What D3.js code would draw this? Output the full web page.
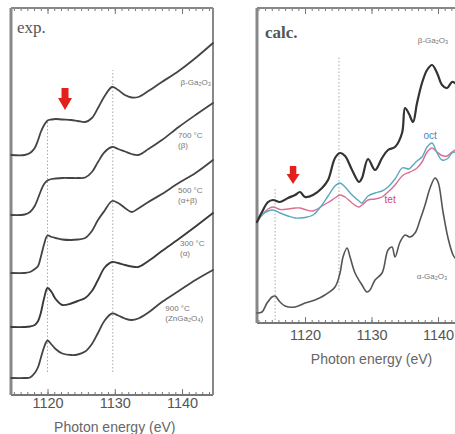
<!DOCTYPE html>
<html><head><meta charset="utf-8">
<script src="https://cdn.jsdelivr.net/npm/d3@7"></script>
<style>
html,body{margin:0;padding:0;background:#fff;}
svg{display:block;}
</style></head>
<body>
<script>
// ---------- DATA ----------
// Experimental spectra (left panel), photon energy in eV, intensity in a.u. (offset stacked)
const expEnergy = [1114.6,1116.6,1117.4,1118.1,1118.6,1119.0,1119.5,1120.0,1120.6,1121.2,1122.2,1123.5,1124.5,1125.6,1126.6,1127.5,1128.5,1129.6,1130.5,1131.5,1132.5,1133.5,1135.0,1137.0,1139.5,1142.0,1144.6];
const expBeta  = [24.0,24.0,24.2,24.7,25.5,26.3,27.0,27.45,27.55,27.6,27.55,27.5,27.4,27.3,27.7,28.7,29.9,30.8,30.5,30.0,29.75,29.8,30.4,31.3,32.4,33.7,35.2];
const exp700   = [18.0,18.05,18.3,18.9,19.7,20.4,21.1,21.45,21.6,21.65,21.7,21.7,21.7,21.75,22.3,23.3,24.3,24.8,24.6,24.35,24.1,24.0,24.6,25.5,26.8,28.0,29.2];
const exp500   = [12.2,12.2,12.3,12.6,12.9,13.8,15.1,15.95,15.8,15.7,15.55,15.5,15.55,15.7,16.4,17.5,18.45,19.4,19.2,18.7,18.3,18.65,19.3,20.1,21.2,22.2,23.5];
const exp300   = [6.8,6.8,6.85,7.0,7.4,8.2,9.7,10.7,10.3,9.6,9.0,9.15,9.4,9.7,10.4,11.5,12.75,13.3,13.2,13.0,12.85,12.8,13.4,14.4,15.6,16.85,18.2];
const exp900   = [1.7,1.7,1.75,2.2,2.8,3.7,4.8,5.45,5.05,4.6,4.15,4.0,4.05,4.35,5.1,6.2,7.45,8.15,7.95,7.65,7.5,7.65,8.25,9.3,10.4,11.5,12.5];
const expLabels = [
  {lines:["β-Ga₂O₃"], e:1144.3, i:[31.0], anchor:"end"},
  {lines:["700 °C","(β)"], e:1139.4, i:[25.7,24.7], anchor:"start"},
  {lines:["500 °C","(α+β)"], e:1139.4, i:[20.2,19.2], anchor:"start"},
  {lines:["300 °C","(α)"], e:1139.7, i:[14.9,13.9], anchor:"start"},
  {lines:["900 °C","(ZnGa₂O₄)"], e:1137.5, i:[8.4,7.4], anchor:"start"}
];
const expGuides = [{e:1120.0, from:2.3, to:27.5},{e:1129.7, from:2.3, to:32.5}];
const expArrow = {e:1122.6, top:30.7, tip:28.5};

// Calculated spectra (right panel)
const calcEnergy = [1112.78,1113.53,1114.44,1115.19,1116.24,1117.44,1118.5,1119.25,1120.0,1121.2,1122.56,1123.46,1124.51,1125.26,1126.02,1127.07,1128.12,1128.57,1129.47,1130.53,1131.58,1132.48,1133.53,1134.59,1135.04,1135.64,1136.24,1136.84,1137.59,1138.35,1139.1,1139.85,1140.6,1141.35,1142.1,1142.56];
const calcBeta = [10.1,11.1,12.1,12.3,12.1,12.5,12.8,13.1,12.6,12.8,13.5,14.3,16.5,17.0,16.7,15.3,14.1,14.5,16.4,15.3,16.5,17.3,17.6,19.0,21.5,20.9,20.1,22.0,24.0,25.3,25.8,25.0,23.8,23.5,24.1,24.0];
const calcOct  = [10.1,10.8,11.2,11.3,11.0,10.7,10.5,10.5,10.55,10.8,11.8,12.7,13.7,14.0,13.6,12.8,12.2,12.0,12.7,13.0,13.2,13.6,14.4,15.5,15.5,15.4,15.8,16.2,16.6,17.6,18.0,17.0,16.3,16.4,17.0,17.1];
const calcTet  = [10.1,10.8,11.4,11.6,11.35,11.4,11.5,11.5,11.35,11.2,11.7,12.05,12.5,12.8,12.6,12.0,11.6,11.8,12.3,12.4,12.6,13.1,13.8,14.7,14.9,15.05,15.25,15.5,16.1,17.1,17.5,17.1,16.75,16.7,17.1,17.3];
const alphaEnergy = [1112.78,1113.53,1114.29,1115.04,1115.49,1116.24,1116.99,1118.5,1120.0,1121.5,1123.0,1124.51,1125.26,1125.71,1126.32,1126.77,1127.52,1128.57,1129.32,1129.77,1130.53,1131.58,1132.48,1133.08,1133.53,1134.29,1135.04,1135.79,1136.54,1137.29,1138.05,1138.8,1139.55,1140.0,1140.75,1141.5,1142.26,1142.56];
const calcAlpha = [1.0,1.1,2.0,2.6,2.7,2.1,1.7,1.6,2.0,2.3,2.8,3.6,5.0,6.6,7.5,6.6,5.0,3.8,3.1,3.3,4.3,5.0,7.3,7.6,6.6,8.1,8.8,8.6,9.0,10.3,11.8,13.5,14.5,14.1,11.1,8.5,6.8,6.5];
const calcLabels = [
  {text:"β-Ga₂O₃", e:1139.25, i:28.0, color:"#777"},
  {text:"oct", e:1138.8, i:18.4, color:"#3f86c6"},
  {text:"tet", e:1132.8, i:12.0, color:"#d2476f"},
  {text:"α-Ga₂O₃", e:1139.1, i:4.4, color:"#777"}
];
const calcGuides = [{e:1115.5, from:0.3, to:13.5},{e:1125.1, from:3.3, to:26.6}];
const calcArrow = {e:1118.2, top:15.7, tip:13.9};

const majorTicks = [1120,1130,1140];
const axisTitle = "Photon energy (eV)";

// ---------- DRAW ----------
const W = 455, H = 434;
const svg = d3.select("body").append("svg").attr("width", W).attr("height", H);
const FONT = "'Liberation Sans', Arial, sans-serif";

function panel(cfg){
  const g = svg.append("g");
  const x = d3.scaleLinear().domain(cfg.xDomain).range(cfg.xRange);
  const y = d3.scaleLinear().domain(cfg.yDomain).range(cfg.yRange);
  const [x0,x1] = cfg.xRange, [yb,yt] = cfg.yRange;

  // guides
  cfg.guides.forEach(d=>{
    g.append("line").attr("x1",x(d.e)).attr("x2",x(d.e)).attr("y1",y(d.from)).attr("y2",y(d.to))
      .attr("stroke","#aaa").attr("stroke-width",1).attr("stroke-dasharray","1.5,2");
  });

  // minor ticks
  const minor = d3.range(Math.ceil(cfg.xDomain[0]), Math.floor(cfg.xDomain[1])+1);
  const axB = g.append("g").attr("transform",`translate(0,${yb})`)
    .call(d3.axisBottom(x).tickValues(minor).tickSize(-3).tickFormat(""));
  const axT = g.append("g").attr("transform",`translate(0,${yt})`)
    .call(d3.axisTop(x).tickValues(minor).tickSize(-3).tickFormat(""));
  const axBM = g.append("g").attr("transform",`translate(0,${yb})`)
    .call(d3.axisBottom(x).tickValues(majorTicks).tickSize(-6).tickPadding(cfg.tickPad).tickFormat(d3.format("d")));
  const axTM = g.append("g").attr("transform",`translate(0,${yt})`)
    .call(d3.axisTop(x).tickValues(majorTicks).tickSize(-6).tickFormat(""));
  [axB,axT,axBM,axTM].forEach(a=>{
    a.select(".domain").remove();
    a.selectAll("line").attr("stroke","#777").attr("stroke-width",1);
  });
  axBM.selectAll("text").attr("fill","#555").attr("font-size",14.5).attr("font-family",FONT);

  // frame
  g.append("line").attr("x1",x0).attr("x2",x1).attr("y1",yt).attr("y2",yt).attr("stroke","#888").attr("stroke-width",2);
  g.append("line").attr("x1",x0).attr("x2",x1).attr("y1",yb).attr("y2",yb).attr("stroke","#777").attr("stroke-width",2);
  g.append("line").attr("x1",x0).attr("x2",x0).attr("y1",yt).attr("y2",yb).attr("stroke","#888").attr("stroke-width",3);
  g.append("line").attr("x1",x1).attr("x2",x1).attr("y1",yt).attr("y2",yb).attr("stroke","#888").attr("stroke-width",2);

  // series
  const line = d3.line().x(d=>x(d[0])).y(d=>y(d[1])).curve(d3.curveCatmullRom.alpha(0.5));
  cfg.series.forEach(s=>{
    g.append("path").datum(d3.zip(s.e, s.v)).attr("d", line)
      .attr("fill","none").attr("stroke",s.color).attr("stroke-width",s.w)
      .attr("stroke-linejoin","round").attr("stroke-linecap","round");
  });

  // arrow
  const a = cfg.arrow, ax = x(a.e), ayt = y(a.top), ayb = y(a.tip);
  const h = ayb-ayt, sw = cfg.arrowW*0.5, hw = cfg.arrowW;
  const p = d3.path();
  p.moveTo(ax-sw/2, ayt); p.lineTo(ax+sw/2, ayt); p.lineTo(ax+sw/2, ayt+h*0.45);
  p.lineTo(ax+hw/2, ayt+h*0.45); p.lineTo(ax, ayb); p.lineTo(ax-hw/2, ayt+h*0.45);
  p.lineTo(ax-sw/2, ayt+h*0.45); p.closePath();
  g.append("path").attr("d", p.toString()).attr("fill","#e3211c");

  // panel title
  g.append("text").attr("x",cfg.title.x).attr("y",cfg.title.y).text(cfg.title.text)
    .attr("font-family","'Liberation Serif','DejaVu Serif',serif").attr("font-size",17)
    .attr("font-weight",cfg.title.bold?"bold":"normal").attr("fill","#555");

  // axis title
  g.append("text").attr("x",(x(majorTicks[0])+x(majorTicks[2]))/2).attr("y",cfg.axisTitleY)
    .attr("text-anchor","middle").attr("font-family",FONT).attr("font-size",14)
    .attr("fill","#666").text(axisTitle);
  return {g,x,y};
}

const L = panel({
  xDomain:[1114.57,1144.6], xRange:[11,213], yDomain:[0,38.7], yRange:[395,8],
  guides: expGuides, arrow: expArrow, arrowW: 14, tickPad: 3,
  title:{text:"exp.", x:17, y:33, bold:false}, axisTitleY:432,
  series:[
    {e:expEnergy, v:expBeta, color:"#444", w:1.8},
    {e:expEnergy, v:exp700, color:"#444", w:1.8},
    {e:expEnergy, v:exp500, color:"#444", w:1.8},
    {e:expEnergy, v:exp300, color:"#3a3a3a", w:1.9},
    {e:expEnergy, v:exp900, color:"#444", w:1.8}
  ]
});
expLabels.forEach(l=>{
  l.lines.forEach((t,k)=>{
    L.g.append("text").attr("x",L.x(l.e)).attr("y",L.y(l.i[k])).attr("text-anchor",l.anchor)
      .attr("font-family",FONT).attr("font-size",8).attr("fill","#777").text(t);
  });
});

const R = panel({
  xDomain:[1112.78,1143.0], xRange:[257,458], yDomain:[0,31.5], yRange:[323,8],
  guides: calcGuides, arrow: calcArrow, arrowW: 13, tickPad: 7,
  title:{text:"calc.", x:265, y:38, bold:true}, axisTitleY:364,
  series:[
    {e:alphaEnergy, v:calcAlpha, color:"#555", w:1.6},
    {e:calcEnergy, v:calcTet, color:"#d9708f", w:1.4},
    {e:calcEnergy, v:calcOct, color:"#5aa9be", w:1.4},
    {e:calcEnergy, v:calcBeta, color:"#333", w:2.2}
  ]
});
calcLabels.forEach(l=>{
  R.g.append("text").attr("x",R.x(l.e)).attr("y",R.y(l.i)).attr("text-anchor","middle")
    .attr("font-family",FONT).attr("font-size",l.text.length<4?10:8).attr("fill",l.color).text(l.text);
});
</script>
</body></html>
